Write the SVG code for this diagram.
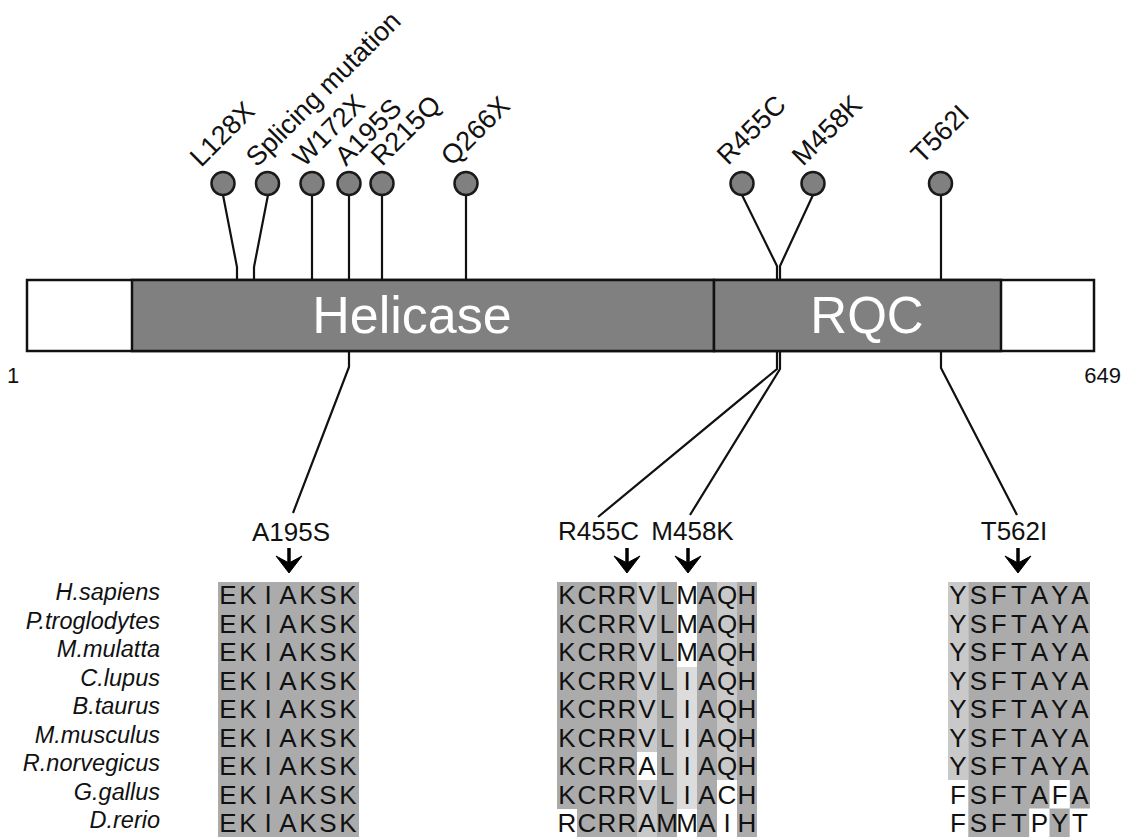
<svg xmlns="http://www.w3.org/2000/svg" width="1123" height="837" viewBox="0 0 1123 837">
<style>
text{font-family:"Liberation Sans",Arial,sans-serif;fill:#111}
.lab{font-size:26px}
.rot{font-size:27px}
.dom{font-size:52px;fill:#fff;text-anchor:middle}
.sp{font-size:23.5px;font-style:italic;text-anchor:end}
.aa{font-size:26px;text-anchor:middle}
.ln{fill:none;stroke:#111;stroke-width:2.2}
.pin{fill:#808080;stroke:#1a1a1a;stroke-width:2.5}
.bar{stroke:#111;stroke-width:2.5}
.d{fill:#ababab}.l{fill:#c9c9c9}.x{fill:#dcdcdc}
.arr{fill:#000;stroke:#000;stroke-width:1}
</style>
<defs>
<g id="arrow"><path d="M0,-25 V-10" stroke="#000" stroke-width="3.5" fill="none"/><path class="arr" d="M-13,-17 L0,0 L13,-17 L0,-10 Z"/></g>
</defs>
<rect width="1123" height="837" fill="#fff"/>
<g id="connectors">
<path class="ln" d="M223,195 L237,267 V280"/>
<path class="ln" d="M268,195 L254,267 V280"/>
<path class="ln" d="M312,195 V280"/>
<path class="ln" d="M349,195 V280"/>
<path class="ln" d="M382,195 V280"/>
<path class="ln" d="M466,195 V280"/>
<path class="ln" d="M742,195 L777,266 V280"/>
<path class="ln" d="M813,195 L780,266 V280"/>
<path class="ln" d="M941,195 V280"/>
<path class="ln" d="M349,351 V367 L293,513"/>
<path class="ln" d="M777,351 V369 L598,517"/>
<path class="ln" d="M780,351 V369 L690,515"/>
<path class="ln" d="M941,351 V368 L1017,515"/>
</g>
<g id="protein">
<rect class="bar" x="27" y="280" width="1067" height="71" fill="#fff"/>
<rect class="bar" x="132" y="280" width="582" height="71" fill="#808080"/>
<rect class="bar" x="714" y="280" width="287" height="71" fill="#808080"/>
<text class="dom" x="412" y="333">Helicase</text>
<text class="dom" x="867" y="333" style="font-size:51px">RQC</text>
<text x="7" y="383" style="font-size:22px">1</text>
<text x="1121" y="383" style="font-size:22px;text-anchor:end">649</text>
</g>
<g id="mutations">
<circle class="pin" cx="223" cy="183.5" r="11.5"/>
<circle class="pin" cx="267.5" cy="183.5" r="11.5"/>
<circle class="pin" cx="312" cy="183.5" r="11.5"/>
<circle class="pin" cx="349" cy="183.5" r="11.5"/>
<circle class="pin" cx="382" cy="183.5" r="11.5"/>
<circle class="pin" cx="466" cy="183.5" r="11.5"/>
<circle class="pin" cx="742" cy="183.5" r="11.5"/>
<circle class="pin" cx="813" cy="183.5" r="11.5"/>
<circle class="pin" cx="940.5" cy="183.5" r="11.5"/>
<text class="rot" transform="translate(201,168) rotate(-45)">L128X</text>
<text class="rot" transform="translate(257,168) rotate(-45)">Splicing mutation</text>
<text class="rot" transform="translate(304,168) rotate(-45)">W172X</text>
<text class="rot" transform="translate(346,167) rotate(-45)">A195S</text>
<text class="rot" transform="translate(382,167) rotate(-45)">R215Q</text>
<text class="rot" transform="translate(452,167) rotate(-45)">Q266X</text>
<text class="rot" transform="translate(728,166) rotate(-45)">R455C</text>
<text class="rot" transform="translate(803,167) rotate(-45)">M458K</text>
<text class="rot" transform="translate(922,165) rotate(-45)">T562I</text>
</g>
<g id="site-labels">
<text class="lab" x="291" y="541" text-anchor="middle">A195S</text>
<text class="lab" x="598.5" y="540" text-anchor="middle">R455C</text>
<text class="lab" x="692.5" y="540" text-anchor="middle">M458K</text>
<text class="lab" x="1014" y="540" text-anchor="middle">T562I</text>
<use href="#arrow" x="289" y="573"/>
<use href="#arrow" x="627" y="573"/>
<use href="#arrow" x="688" y="573"/>
<use href="#arrow" x="1018" y="573"/>
</g>
<g id="species">
<text class="sp" x="160" y="600">H.sapiens</text>
<text class="sp" x="160" y="628.5">P.troglodytes</text>
<text class="sp" x="160" y="657">M.mulatta</text>
<text class="sp" x="160" y="685.5">C.lupus</text>
<text class="sp" x="160" y="714">B.taurus</text>
<text class="sp" x="160" y="742.5">M.musculus</text>
<text class="sp" x="160" y="771">R.norvegicus</text>
<text class="sp" x="160" y="799.5">G.gallus</text>
<text class="sp" x="160" y="828">D.rerio</text>
</g>
<g id="align-A195S">
<rect class="d" x="218" y="582" width="141" height="255"/>
<g class="aa">
<text y="604"><tspan x="228">E</tspan><tspan x="248">K</tspan><tspan x="268">I</tspan><tspan x="288">A</tspan><tspan x="308">K</tspan><tspan x="328">S</tspan><tspan x="348">K</tspan></text>
<text y="632.5"><tspan x="228">E</tspan><tspan x="248">K</tspan><tspan x="268">I</tspan><tspan x="288">A</tspan><tspan x="308">K</tspan><tspan x="328">S</tspan><tspan x="348">K</tspan></text>
<text y="661"><tspan x="228">E</tspan><tspan x="248">K</tspan><tspan x="268">I</tspan><tspan x="288">A</tspan><tspan x="308">K</tspan><tspan x="328">S</tspan><tspan x="348">K</tspan></text>
<text y="689.5"><tspan x="228">E</tspan><tspan x="248">K</tspan><tspan x="268">I</tspan><tspan x="288">A</tspan><tspan x="308">K</tspan><tspan x="328">S</tspan><tspan x="348">K</tspan></text>
<text y="718"><tspan x="228">E</tspan><tspan x="248">K</tspan><tspan x="268">I</tspan><tspan x="288">A</tspan><tspan x="308">K</tspan><tspan x="328">S</tspan><tspan x="348">K</tspan></text>
<text y="746.5"><tspan x="228">E</tspan><tspan x="248">K</tspan><tspan x="268">I</tspan><tspan x="288">A</tspan><tspan x="308">K</tspan><tspan x="328">S</tspan><tspan x="348">K</tspan></text>
<text y="775"><tspan x="228">E</tspan><tspan x="248">K</tspan><tspan x="268">I</tspan><tspan x="288">A</tspan><tspan x="308">K</tspan><tspan x="328">S</tspan><tspan x="348">K</tspan></text>
<text y="803.5"><tspan x="228">E</tspan><tspan x="248">K</tspan><tspan x="268">I</tspan><tspan x="288">A</tspan><tspan x="308">K</tspan><tspan x="328">S</tspan><tspan x="348">K</tspan></text>
<text y="832"><tspan x="228">E</tspan><tspan x="248">K</tspan><tspan x="268">I</tspan><tspan x="288">A</tspan><tspan x="308">K</tspan><tspan x="328">S</tspan><tspan x="348">K</tspan></text>
</g>
</g>
<g id="align-R455C-M458K">
<rect class="d" x="557" y="582" width="80" height="227"/>
<rect class="d" x="577" y="809" width="60" height="28"/>
<rect class="l" x="637" y="582" width="20" height="170"/>
<rect class="l" x="637" y="780" width="20" height="57"/>
<rect class="d" x="657" y="582" width="20" height="255"/>
<rect class="x" x="677" y="667" width="20" height="142"/>
<rect class="d" x="697" y="582" width="20" height="255"/>
<rect class="l" x="717" y="582" width="20" height="198"/>
<rect class="d" x="737" y="582" width="20" height="255"/>
<g class="aa">
<text y="604"><tspan x="567">K</tspan><tspan x="587">C</tspan><tspan x="607">R</tspan><tspan x="627">R</tspan><tspan x="647">V</tspan><tspan x="667">L</tspan><tspan x="687">M</tspan><tspan x="707">A</tspan><tspan x="727">Q</tspan><tspan x="747">H</tspan></text>
<text y="632.5"><tspan x="567">K</tspan><tspan x="587">C</tspan><tspan x="607">R</tspan><tspan x="627">R</tspan><tspan x="647">V</tspan><tspan x="667">L</tspan><tspan x="687">M</tspan><tspan x="707">A</tspan><tspan x="727">Q</tspan><tspan x="747">H</tspan></text>
<text y="661"><tspan x="567">K</tspan><tspan x="587">C</tspan><tspan x="607">R</tspan><tspan x="627">R</tspan><tspan x="647">V</tspan><tspan x="667">L</tspan><tspan x="687">M</tspan><tspan x="707">A</tspan><tspan x="727">Q</tspan><tspan x="747">H</tspan></text>
<text y="689.5"><tspan x="567">K</tspan><tspan x="587">C</tspan><tspan x="607">R</tspan><tspan x="627">R</tspan><tspan x="647">V</tspan><tspan x="667">L</tspan><tspan x="687">I</tspan><tspan x="707">A</tspan><tspan x="727">Q</tspan><tspan x="747">H</tspan></text>
<text y="718"><tspan x="567">K</tspan><tspan x="587">C</tspan><tspan x="607">R</tspan><tspan x="627">R</tspan><tspan x="647">V</tspan><tspan x="667">L</tspan><tspan x="687">I</tspan><tspan x="707">A</tspan><tspan x="727">Q</tspan><tspan x="747">H</tspan></text>
<text y="746.5"><tspan x="567">K</tspan><tspan x="587">C</tspan><tspan x="607">R</tspan><tspan x="627">R</tspan><tspan x="647">V</tspan><tspan x="667">L</tspan><tspan x="687">I</tspan><tspan x="707">A</tspan><tspan x="727">Q</tspan><tspan x="747">H</tspan></text>
<text y="775"><tspan x="567">K</tspan><tspan x="587">C</tspan><tspan x="607">R</tspan><tspan x="627">R</tspan><tspan x="647">A</tspan><tspan x="667">L</tspan><tspan x="687">I</tspan><tspan x="707">A</tspan><tspan x="727">Q</tspan><tspan x="747">H</tspan></text>
<text y="803.5"><tspan x="567">K</tspan><tspan x="587">C</tspan><tspan x="607">R</tspan><tspan x="627">R</tspan><tspan x="647">V</tspan><tspan x="667">L</tspan><tspan x="687">I</tspan><tspan x="707">A</tspan><tspan x="727">C</tspan><tspan x="747">H</tspan></text>
<text y="832"><tspan x="567">R</tspan><tspan x="587">C</tspan><tspan x="607">R</tspan><tspan x="627">R</tspan><tspan x="647">A</tspan><tspan x="667">M</tspan><tspan x="687">M</tspan><tspan x="707">A</tspan><tspan x="727">I</tspan><tspan x="747">H</tspan></text>
</g>
</g>
<g id="align-T562I">
<rect class="l" x="948" y="582" width="20.3" height="198"/>
<rect class="d" x="968.3" y="582" width="121.7" height="255"/>
<rect fill="#fff" x="1049.5" y="780" width="20.3" height="28.5"/>
<rect fill="#fff" x="1029.2" y="808.5" width="20.3" height="28.5"/>
<rect fill="#fff" x="1069.7" y="808.5" width="20.3" height="28.5"/>
<g class="aa">
<text y="604"><tspan x="958">Y</tspan><tspan x="978.5">S</tspan><tspan x="998.8">F</tspan><tspan x="1019">T</tspan><tspan x="1039.4">A</tspan><tspan x="1059.7">Y</tspan><tspan x="1080">A</tspan></text>
<text y="632.5"><tspan x="958">Y</tspan><tspan x="978.5">S</tspan><tspan x="998.8">F</tspan><tspan x="1019">T</tspan><tspan x="1039.4">A</tspan><tspan x="1059.7">Y</tspan><tspan x="1080">A</tspan></text>
<text y="661"><tspan x="958">Y</tspan><tspan x="978.5">S</tspan><tspan x="998.8">F</tspan><tspan x="1019">T</tspan><tspan x="1039.4">A</tspan><tspan x="1059.7">Y</tspan><tspan x="1080">A</tspan></text>
<text y="689.5"><tspan x="958">Y</tspan><tspan x="978.5">S</tspan><tspan x="998.8">F</tspan><tspan x="1019">T</tspan><tspan x="1039.4">A</tspan><tspan x="1059.7">Y</tspan><tspan x="1080">A</tspan></text>
<text y="718"><tspan x="958">Y</tspan><tspan x="978.5">S</tspan><tspan x="998.8">F</tspan><tspan x="1019">T</tspan><tspan x="1039.4">A</tspan><tspan x="1059.7">Y</tspan><tspan x="1080">A</tspan></text>
<text y="746.5"><tspan x="958">Y</tspan><tspan x="978.5">S</tspan><tspan x="998.8">F</tspan><tspan x="1019">T</tspan><tspan x="1039.4">A</tspan><tspan x="1059.7">Y</tspan><tspan x="1080">A</tspan></text>
<text y="775"><tspan x="958">Y</tspan><tspan x="978.5">S</tspan><tspan x="998.8">F</tspan><tspan x="1019">T</tspan><tspan x="1039.4">A</tspan><tspan x="1059.7">Y</tspan><tspan x="1080">A</tspan></text>
<text y="803.5"><tspan x="958">F</tspan><tspan x="978.5">S</tspan><tspan x="998.8">F</tspan><tspan x="1019">T</tspan><tspan x="1039.4">A</tspan><tspan x="1059.7">F</tspan><tspan x="1080">A</tspan></text>
<text y="832"><tspan x="958">F</tspan><tspan x="978.5">S</tspan><tspan x="998.8">F</tspan><tspan x="1019">T</tspan><tspan x="1039.4">P</tspan><tspan x="1059.7">Y</tspan><tspan x="1080">T</tspan></text>
</g>
</g>
</svg>
